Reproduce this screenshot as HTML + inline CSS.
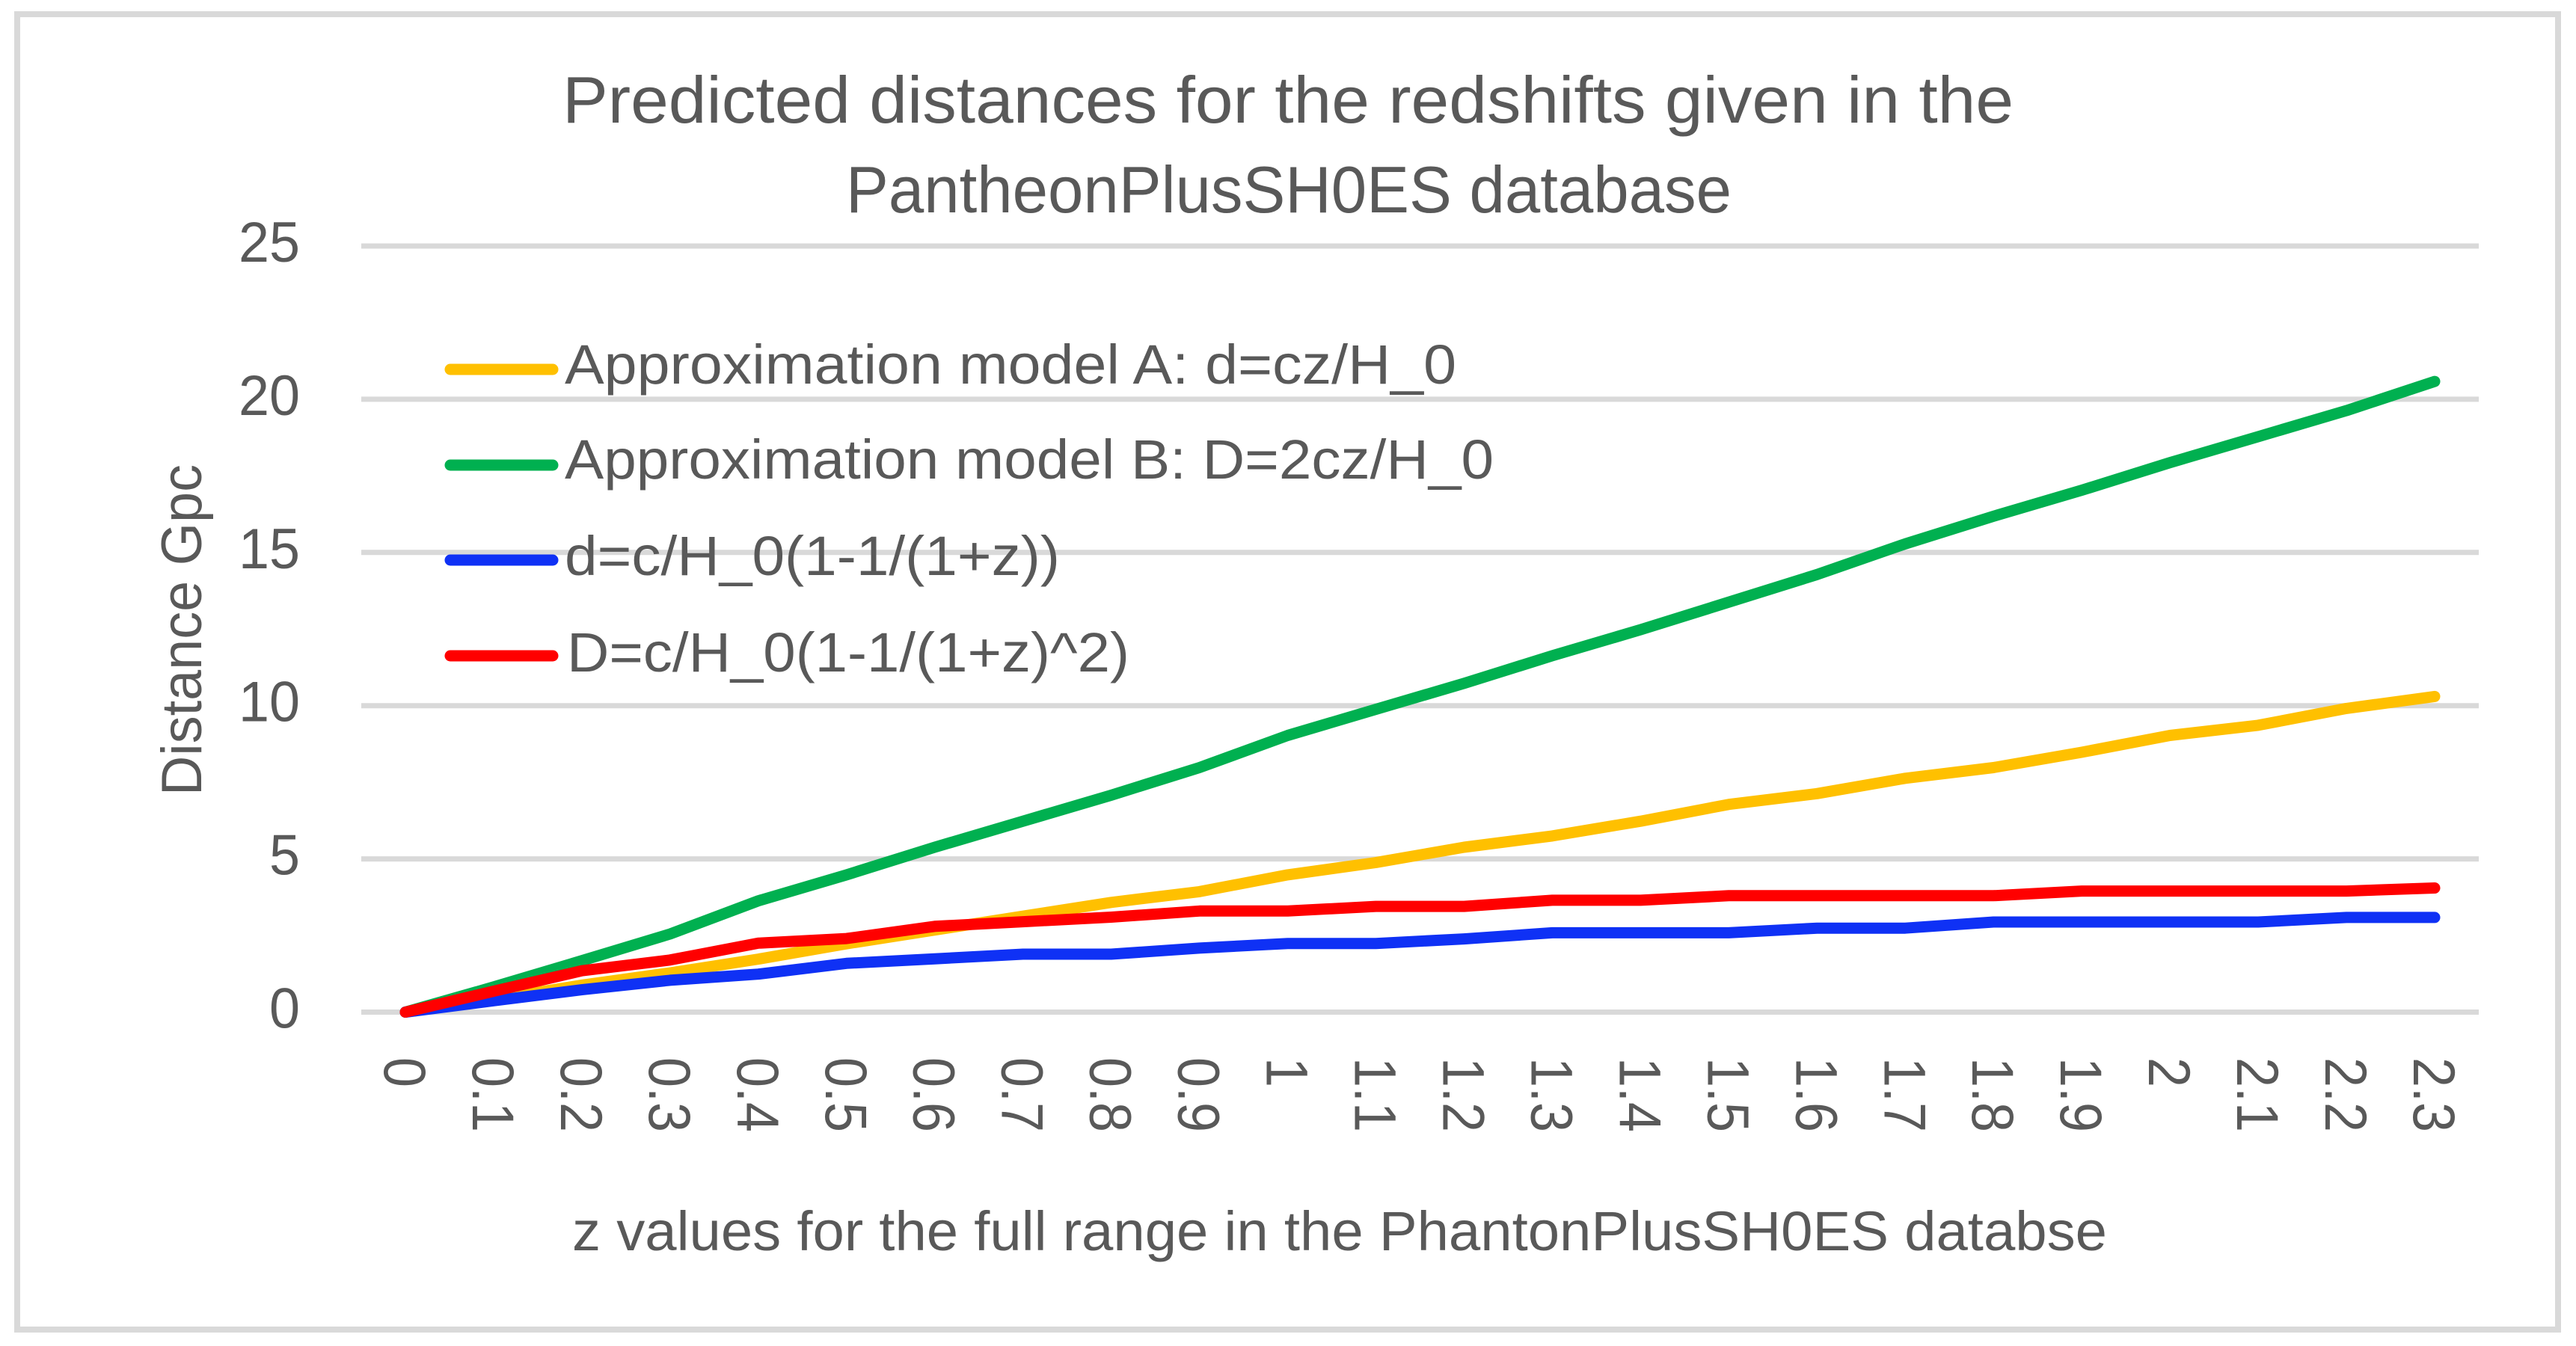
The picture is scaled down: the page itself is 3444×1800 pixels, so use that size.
<!DOCTYPE html>
<html lang="en">
<head>
<meta charset="utf-8">
<title>Predicted distances chart</title>
<style>
html,body{margin:0;padding:0;background:#fff;width:3444px;height:1800px;overflow:hidden}
svg{display:block}
text{font-family:"Liberation Sans",sans-serif;fill:#595959}
</style>
</head>
<body>
<svg id="chart" xmlns="http://www.w3.org/2000/svg" width="3444" height="1800" viewBox="0 0 3444 1800">
  <rect x="0" y="0" width="3444" height="1800" fill="#ffffff"/>
  <rect x="23" y="19" width="3397" height="1759" fill="#ffffff" stroke="#d9d9d9" stroke-width="8"/>
  <g id="grid"></g>
  <g id="yticks"></g>
  <g id="xticks"></g>
  <g id="series"></g>

  <text x="752" y="164" font-size="88" textLength="1940" lengthAdjust="spacingAndGlyphs">Predicted distances for the redshifts given in the</text>
  <text x="1131" y="284" font-size="88" textLength="1184" lengthAdjust="spacingAndGlyphs">PantheonPlusSH0ES database</text>

  <g>
    <line x1="602" y1="494" x2="739" y2="494" stroke="#ffc000" stroke-width="15" stroke-linecap="round"/>
    <text x="755" y="513" font-size="74" textLength="1192" lengthAdjust="spacingAndGlyphs">Approximation model A: d=cz/H_0</text>
    <line x1="602" y1="622" x2="739" y2="622" stroke="#00b050" stroke-width="15" stroke-linecap="round"/>
    <text x="755" y="640" font-size="74" textLength="1242" lengthAdjust="spacingAndGlyphs">Approximation model B: D=2cz/H_0</text>
    <line x1="602" y1="749" x2="739" y2="749" stroke="#0f31f5" stroke-width="15" stroke-linecap="round"/>
    <text x="755" y="769" font-size="74" textLength="662" lengthAdjust="spacingAndGlyphs">d=c/H_0(1-1/(1+z))</text>
    <line x1="602" y1="877" x2="739" y2="877" stroke="#ff0000" stroke-width="15" stroke-linecap="round"/>
    <text x="758" y="898" font-size="74" textLength="752" lengthAdjust="spacingAndGlyphs">D=c/H_0(1-1/(1+z)^2)</text>
  </g>

  <text x="765" y="1672" font-size="74" textLength="2052" lengthAdjust="spacingAndGlyphs">z values for the full range in the PhantonPlusSH0ES databse</text>
  <text transform="translate(269,1064) rotate(-90)" x="0" y="0" font-size="76" textLength="443" lengthAdjust="spacingAndGlyphs">Distance Gpc</text>
</svg>
<script>
const categories = ["0","0.1","0.2","0.3","0.4","0.5","0.6","0.7","0.8","0.9","1","1.1","1.2","1.3","1.4","1.5","1.6","1.7","1.8","1.9","2","2.1","2.2","2.3"];
const yTickValues = [0, 5, 10, 15, 20, 25];
const modelA = [0,0.42,0.88,1.28,1.73,2.23,2.68,3.13,3.58,3.93,4.48,4.88,5.38,5.75,6.23,6.78,7.13,7.63,7.98,8.48,9.03,9.36,9.91,10.3];
const modelB = [0,0.82,1.68,2.55,3.63,4.48,5.38,6.23,7.08,7.98,9.03,9.88,10.73,11.63,12.48,13.38,14.28,15.28,16.18,17.03,17.93,18.78,19.63,20.58];
const seriesD = [0,0.37,0.73,1.04,1.24,1.59,1.74,1.89,1.89,2.09,2.24,2.24,2.39,2.59,2.59,2.59,2.74,2.74,2.94,2.94,2.94,2.94,3.09,3.09];
const seriesBigD = [0,0.68,1.35,1.7,2.25,2.4,2.8,2.95,3.1,3.3,3.3,3.45,3.45,3.65,3.65,3.8,3.8,3.8,3.8,3.95,3.95,3.95,3.95,4.05];

const NS = 'http://www.w3.org/2000/svg';
const plotLeft = 483, plotRight = 3314, plotBottom = 1353.5, plotTop = 329, yMax = 25;
function xScale(i) { return plotLeft + (i + 0.5) * (plotRight - plotLeft) / categories.length; }
function yScale(v) { return plotBottom - v / yMax * (plotBottom - plotTop); }

const gridGroup = document.getElementById('grid');
const yTickGroup = document.getElementById('yticks');
yTickValues.forEach(function (v) {
  const line = document.createElementNS(NS, 'line');
  
  
  line.setAttribute('x1', plotLeft);
  line.setAttribute('x2', plotRight);
  line.setAttribute('y1', yScale(v));
  line.setAttribute('y2', yScale(v));
  line.setAttribute('stroke', '#d9d9d9');
  line.setAttribute('stroke-width', '7');
  gridGroup.appendChild(line);

  const label = document.createElementNS(NS, 'text');
  
  
  label.setAttribute('transform', 'translate(401,' + (yScale(v) + 21) + ') scale(0.97,1)');
  label.setAttribute('font-size', '76');
  label.setAttribute('text-anchor', 'end');
  label.textContent = String(v);
  yTickGroup.appendChild(label);
});

const xTickGroup = document.getElementById('xticks');
categories.forEach(function (c, i) {
  const label = document.createElementNS(NS, 'text');
  
  
  label.setAttribute('transform', 'translate(' + (xScale(i) - 28) + ',1414) rotate(90) scale(1,1.1)');
  label.setAttribute('font-size', '72');
  label.textContent = c;
  xTickGroup.appendChild(label);
});

const seriesGroup = document.getElementById('series');
function drawSeries(values, color, name) {
  const pts = values.map(function (v, i) { return xScale(i).toFixed(1) + ',' + yScale(v).toFixed(1); }).join(' ');
  const poly = document.createElementNS(NS, 'polyline');
  
  
  poly.setAttribute('points', pts);
  poly.setAttribute('fill', 'none');
  poly.setAttribute('stroke', color);
  poly.setAttribute('stroke-width', '15');
  poly.setAttribute('stroke-linecap', 'round');
  poly.setAttribute('stroke-linejoin', 'round');
  seriesGroup.appendChild(poly);
}
drawSeries(modelA, '#ffc000', 'series-model-a');
drawSeries(modelB, '#00b050', 'series-model-b');
drawSeries(seriesD, '#0f31f5', 'series-d');
drawSeries(seriesBigD, '#ff0000', 'series-big-d');
</script>
</body>
</html>
